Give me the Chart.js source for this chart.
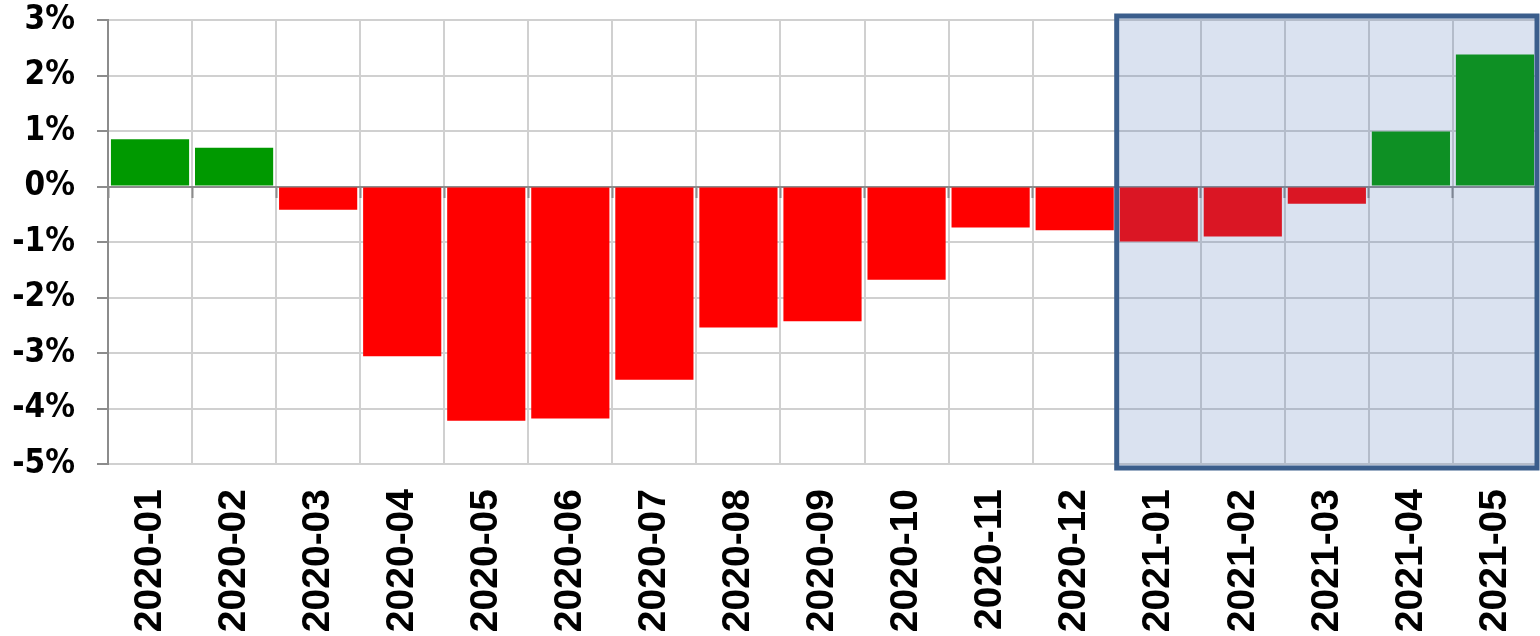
<!DOCTYPE html>
<html lang="en">
<head>
  <meta charset="UTF-8">
  <title>Monthly change</title>
  <script src="https://cdn.jsdelivr.net/npm/chart.js"></script>
  <style>
    body {
      margin: 0;
      background: #ffffff;
    }
    .chart-container {
      width: 1540px;
      height: 636px;
      position: relative;
    }
  </style>
</head>
<body>
  <div class="chart-container">
    <canvas id="barChart"></canvas>
  </div>

  <script>
    // Months on the x axis
    const months = [
      "2020-01", "2020-02", "2020-03", "2020-04", "2020-05", "2020-06",
      "2020-07", "2020-08", "2020-09", "2020-10", "2020-11", "2020-12",
      "2021-01", "2021-02", "2021-03", "2021-04", "2021-05"
    ];

    // Change in percent
    const changes = [
      0.85, 0.70, -0.42, -3.06, -4.22, -4.18,
      -3.48, -2.54, -2.43, -1.68, -0.74, -0.79,
      -0.99, -0.90, -0.31, 0.99, 2.38
    ];

    // Y axis ticks
    const yTicks = [3, 2, 1, 0, -1, -2, -3, -4, -5];

    // First month of the highlighted period
    const highlightStart = "2021-01";

    const barColors = changes.map(v => v >= 0 ? "#009900" : "#ff0000");

    // Shaded box over the highlighted months, drawn on top of the bars
    const highlightBox = {
      id: "highlightBox",
      afterDatasetsDraw(chart) {
        const { ctx, chartArea: area, scales } = chart;
        const idx = months.indexOf(highlightStart);
        const left = scales.x.getPixelForValue(idx - 0.5);
        const right = area.right;
        ctx.save();
        ctx.fillStyle = "rgba(70, 110, 180, 0.2)";
        ctx.fillRect(left, area.top - 2, right - left, area.bottom - area.top + 4);
        ctx.strokeStyle = "#3b5e8c";
        ctx.lineWidth = 5;
        ctx.strokeRect(left, area.top - 4, right - left, area.bottom - area.top + 8);
        ctx.restore();
      }
    };

    const ctx = document.getElementById("barChart").getContext("2d");

    new Chart(ctx, {
      type: "bar",
      data: {
        labels: months,
        datasets: [{
          data: changes,
          backgroundColor: barColors,
          borderWidth: 0,
          barPercentage: 0.93,
          categoryPercentage: 1.0
        }]
      },
      options: {
        responsive: true,
        maintainAspectRatio: false,
        animation: false,
        layout: {
          padding: { top: 20, right: 3, left: 0, bottom: 0 }
        },
        plugins: {
          legend: { display: false },
          tooltip: { enabled: false }
        },
        scales: {
          x: {
            position: "bottom",
            offset: true,
            grid: {
              display: true,
              offset: true,
              color: "#d0d0d0",
              lineWidth: 2,
              drawTicks: false
            },
            border: { display: false },
            ticks: {
              minRotation: 90,
              maxRotation: 90,
              autoSkip: false,
              padding: 25,
              color: "#000000",
              font: { family: "Liberation Sans, Arial, sans-serif", size: 39, weight: "bold" }
            },
            afterFit(scale) {
              scale.height = 172;
              scale.paddingLeft = 0;
              scale.paddingRight = 0;
            }
          },
          x2: {
            type: "category",
            position: { y: 0 },
            offset: true,
            grid: {
              display: true,
              offset: true,
              drawOnChartArea: false,
              drawTicks: true,
              tickLength: 10,
              tickColor: "#8c8c8c",
              tickWidth: 2
            },
            border: { display: true, color: "#8c8c8c", width: 2 },
            ticks: { display: false }
          },
          y: {
            min: -5,
            max: 3,
            afterBuildTicks(scale) {
              scale.ticks = yTicks.map(v => ({ value: v }));
            },
            grid: {
              color: "#d0d0d0",
              lineWidth: 2,
              tickLength: 11,
              tickColor: "#8c8c8c",
              tickWidth: 2
            },
            border: { display: true, color: "#8c8c8c", width: 2 },
            ticks: {
              padding: 22,
              color: "#000000",
              font: { family: "DejaVu Sans Condensed, DejaVu Sans, sans-serif", size: 33, weight: "bold" },
              callback: function(value) {
                return value + "%";
              }
            },
            afterFit(scale) {
              scale.width = 108;
              scale.paddingTop = 0;
              scale.paddingBottom = 0;
            }
          }
        }
      },
      plugins: [highlightBox]
    });
  </script>
</body>
</html>
